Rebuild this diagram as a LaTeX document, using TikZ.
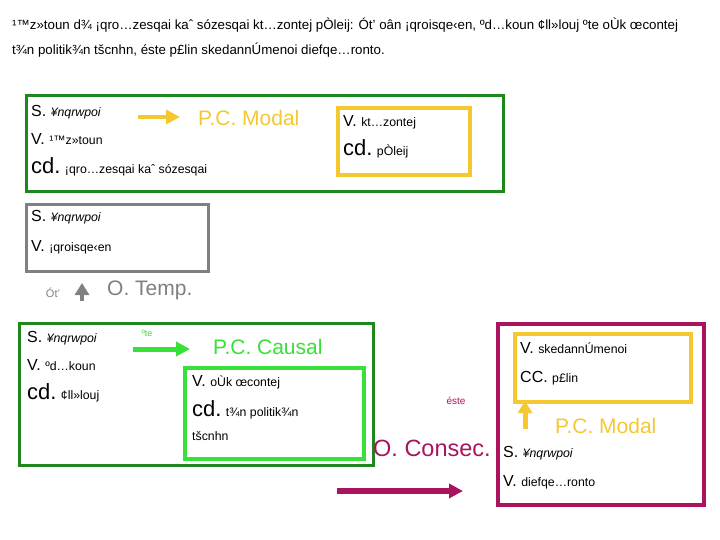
\documentclass[tikz,border=0pt]{standalone}
\usepackage{fontspec}
\setmainfont{Liberation Sans}
\usetikzlibrary{arrows.meta}
\definecolor{dkgreen}{RGB}{30,135,30}
\definecolor{limeg}{RGB}{55,225,55}
\definecolor{gold}{RGB}{245,200,50}
\definecolor{mag}{RGB}{170,20,95}
\definecolor{grayc}{RGB}{128,128,128}
\newcommand{\gk}{\fontsize{12.3}{14}\selectfont}
\newcommand{\gki}{\fontsize{12.3}{14}\selectfont\itshape}
\newcommand{\lb}{\fontsize{16}{18}\selectfont}
\newcommand{\lbig}{\fontsize{22}{24}\selectfont}
\begin{document}
\begin{tikzpicture}[x=1pt,y=-1pt,
  row/.style={anchor=west, inner sep=0pt, font=\lb},
  para/.style={anchor=west, inner sep=0pt, font=\fontsize{13.3}{15}\selectfont},
  frame/.style={draw, anchor=north west, inner sep=0pt, line width=#1},
  frame/.default=3pt,
  title/.style={anchor=west, inner sep=0pt, font=\fontsize{21}{24}\selectfont},
  fat/.style={line width=#1, -{Triangle[length=14pt,width=14pt]}},
  fat/.default=4pt]
\fill[white] (0,0) rectangle (720,540);
\useasboundingbox (0,0) rectangle (720,540);

% paragraph
\node[para] (p1) at (12,25) {¹™z»toun d¾ ¡qro…zesqai kaˆ sózesqai kt…zontej pÒleij: Ót' oân ¡qroisqe‹en, ºd…koun ¢ll»louj ºte oÙk œcontej};
\node[para] (p2) at (12,50) {t¾n politik¾n tšcnhn, éste p£lin skedannÚmenoi diefqe…ronto.};

% top green box
\node[frame, draw=dkgreen, minimum width=477, minimum height=96] (gb1) at (25,94) {};
\node[row] (s1) at (31,112) {S.~\gki ¥nqrwpoi};
\node[row] (v1) at (31,139) {V.~\gk ¹™z»toun};
\node[row] (c1) at (31,167) {{\lbig cd.}~\gk ¡qro…zesqai kaˆ sózesqai};
\coordinate (ya1) at (138,117);
\coordinate (ya2) at (180,117);
\draw[fat=4pt, gold] (ya1) -- (ya2);
\node[title, text=gold] (pcm1) at (198,118) {P.C. Modal};
\node[frame=4pt, draw=gold, minimum width=132, minimum height=67] (yb1) at (336,106) {};
\node[row] (v2) at (343,122) {V.~\gk kt…zontej};
\node[row] (c2) at (343,149) {{\lbig cd.}~\gk pÒleij};

% gray box
\node[frame, draw=grayc, minimum width=182, minimum height=67] (grb) at (25,203) {};
\node[row] (s2) at (31,217) {S.~\gki ¥nqrwpoi};
\node[row] (v3) at (31,247) {V.~\gk ¡qroisqe‹en};
\node[anchor=center, inner sep=0pt, font=\fontsize{11}{13}\selectfont, text=grayc] (ot) at (53,293) {Ót'};
\coordinate (ga1) at (82,301);
\coordinate (ga2) at (82,283);
\draw[grayc, line width=4pt, -{Triangle[length=12pt,width=14pt]}] (ga1) -- (ga2);
\node[title, text=grayc] (otemp) at (107,290) {O. Temp.};

% bottom green box
\node[frame, draw=dkgreen, minimum width=354, minimum height=142] (gb2) at (18,322) {};
\node[row] (s3) at (27,338) {S.~\gki ¥nqrwpoi};
\node[row] (v4) at (27,365) {V.~\gk ºd…koun};
\node[row] (c3) at (27,393) {{\lbig cd.}~\gk ¢ll»louj};
\node[anchor=center, inner sep=0pt, text=limeg, font=\fontsize{9}{10}\selectfont] (hote) at (147,333) {ºte};
\coordinate (la1) at (133,349);
\coordinate (la2) at (190,349);
\draw[fat=5pt, limeg] (la1) -- (la2);
\node[title, text=limeg] (pcc) at (213,347) {P.C. Causal};
\node[frame=4pt, draw=limeg, minimum width=179, minimum height=91] (lb) at (183,366) {};
\node[row] (v5) at (192,382) {V.~\gk oÙk œcontej};
\node[row] (c4) at (192,410) {{\lbig cd.}~\gk t¾n politik¾n};
\node[anchor=west, inner sep=0pt, font=\gk] (c4b) at (192,436) {tšcnhn};

% consecutive
\node[anchor=center, inner sep=0pt, text=mag, font=\fontsize{10}{12}\selectfont] (hoste) at (456,401) {éste};
\node[anchor=west, inner sep=0pt, text=mag, font=\fontsize{23.5}{26}\selectfont] (ocons) at (373,448) {O. Consec.};
\coordinate (ma1) at (337,491);
\coordinate (ma2) at (463,491);
\draw[fat=6pt, mag] (ma1) -- (ma2);
\node[frame=4pt, draw=mag, minimum width=206, minimum height=181] (mb) at (496,322) {};
\node[frame=4pt, draw=gold, minimum width=176, minimum height=68] (yb2) at (513,332) {};
\node[row] (v6) at (520,348) {V.~\gk skedannÚmenoi};
\node[row] (cc) at (520,378) {CC.~\gk p£lin};
\coordinate (yu1) at (525,429);
\coordinate (yu2) at (525,401);
\draw[gold, line width=5pt, -{Triangle[length=12pt,width=14pt]}] (yu1) -- (yu2);
\node[title, text=gold] (pcm2) at (555,426) {P.C. Modal};
\node[row] (s4) at (503,453) {S.~\gki ¥nqrwpoi};
\node[row] (v7) at (503,482) {V.~\gk diefqe…ronto};
\end{tikzpicture}
\end{document}
